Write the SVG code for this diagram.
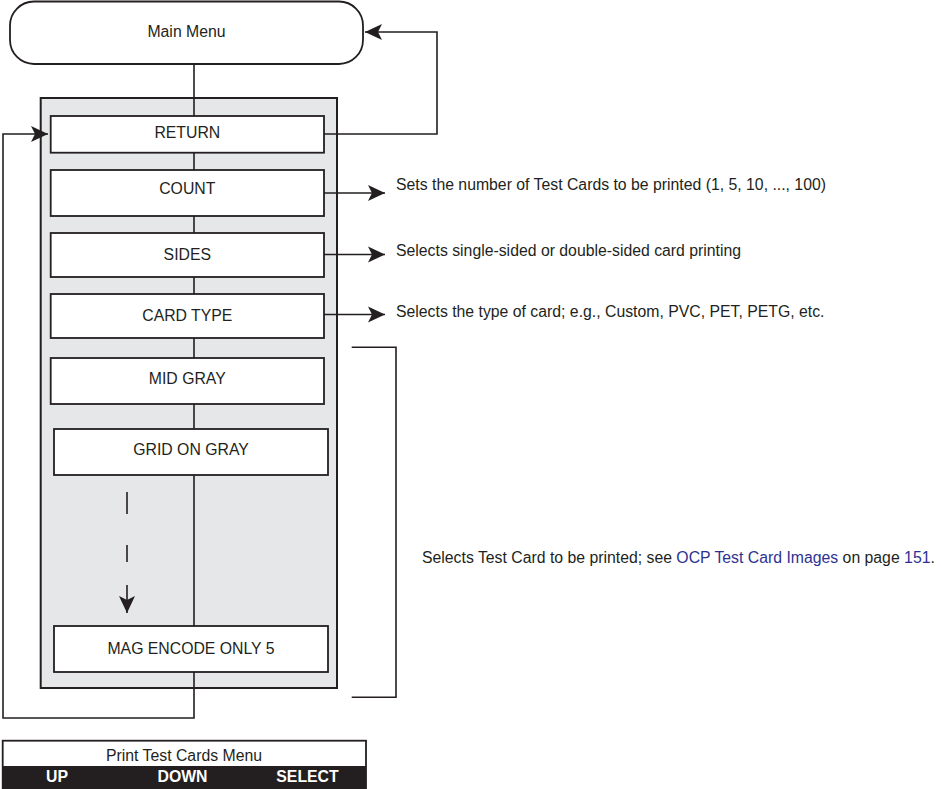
<svg xmlns="http://www.w3.org/2000/svg" width="942" height="789" viewBox="0 0 942 789">
<style>
  text { font-family: "Liberation Sans", Arial, sans-serif; font-size: 15.8px; fill: #231f20; }
  .c { text-anchor: middle; }
  .box { fill: #ffffff; stroke: #231f20; stroke-width: 1.8; }
  .ln { fill: none; stroke: #231f20; stroke-width: 1.6; }
  .link { fill: #2e3192; }
  .bold { font-weight: bold; fill: #ffffff; text-anchor: middle; }
</style>
<defs>
  <marker id="ah" markerUnits="userSpaceOnUse" markerWidth="18" markerHeight="18" refX="17" refY="8" orient="auto" viewBox="0 0 18 16">
    <path d="M0,0 L17,8 L0,16 L4,8 z" fill="#231f20"/>
  </marker>
</defs>
<rect id="panel" x="40.7" y="98" width="296.3" height="590" fill="#e6e7e8" stroke="#231f20" stroke-width="2"/>
<g id="connectors">
  <path class="ln" d="M194,64 V672"/>
  <path class="ln" d="M194,672 V718 H3 V134 H48" marker-end="url(#ah)"/>
  <path class="ln" d="M324,134 H437 V32 H365" marker-end="url(#ah)"/>
  <path class="ln" d="M324,193 H385" marker-end="url(#ah)"/>
  <path class="ln" d="M324,254.5 H385" marker-end="url(#ah)"/>
  <path class="ln" d="M324,314.5 H385" marker-end="url(#ah)"/>
  <path class="ln" d="M127,492 V514"/>
  <path class="ln" d="M127,545 V562"/>
  <path class="ln" d="M127,585 V613" marker-end="url(#ah)"/>
  <path class="ln" d="M351.7,347.3 H396 V697.3 H351.7"/>
</g>
<g id="main-menu">
  <rect class="box" x="10" y="1.5" width="353" height="62.5" rx="24" ry="24"/>
  <text class="c" x="186.5" y="36.5">Main Menu</text>
</g>
<g id="return">
  <rect class="box" x="50.7" y="116" width="273.3" height="36.7"/>
  <text class="c" x="187.3" y="137.5">RETURN</text>
</g>
<g id="count">
  <rect class="box" x="50.7" y="170" width="273.3" height="46"/>
  <text class="c" x="187.3" y="194">COUNT</text>
</g>
<g id="sides">
  <rect class="box" x="50.7" y="233" width="273.3" height="44"/>
  <text class="c" x="187.3" y="260">SIDES</text>
</g>
<g id="card-type">
  <rect class="box" x="50.7" y="294" width="273.3" height="44"/>
  <text class="c" x="187.3" y="321">CARD TYPE</text>
</g>
<g id="mid-gray">
  <rect class="box" x="50.7" y="358" width="273.3" height="46"/>
  <text class="c" x="187.3" y="383.5">MID GRAY</text>
</g>
<g id="grid-on-gray">
  <rect class="box" x="54" y="429" width="274" height="46"/>
  <text class="c" x="191" y="455">GRID ON GRAY</text>
</g>
<g id="mag-encode">
  <rect class="box" x="54" y="626" width="274" height="46"/>
  <text class="c" x="191" y="653.5">MAG ENCODE ONLY 5</text>
</g>
<g id="desc-count"><text x="396" y="190">Sets the number of Test Cards to be printed (1, 5, 10, ..., 100)</text></g>
<g id="desc-sides"><text x="396" y="255.5">Selects single-sided or double-sided card printing</text></g>
<g id="desc-type"><text x="396" y="316.5">Selects the type of card; e.g., Custom, PVC, PET, PETG, etc.</text></g>
<g id="desc-test"><text x="422" y="562.5">Selects Test Card to be printed; see <tspan class="link">OCP Test Card Images</tspan> on page <tspan class="link">151</tspan>.</text></g>
<g id="menu-bar">
  <rect x="2.7" y="740.7" width="363.3" height="50" fill="#ffffff" stroke="#231f20" stroke-width="1.8"/>
  <rect x="2.7" y="766" width="363.3" height="23" fill="#231f20"/>
  <text class="c" x="184" y="760.5">Print Test Cards Menu</text>
  <text class="bold" x="57" y="781.5">UP</text>
  <text class="bold" x="182.5" y="781.5">DOWN</text>
  <text class="bold" x="307.5" y="781.5">SELECT</text>
</g>
</svg>
